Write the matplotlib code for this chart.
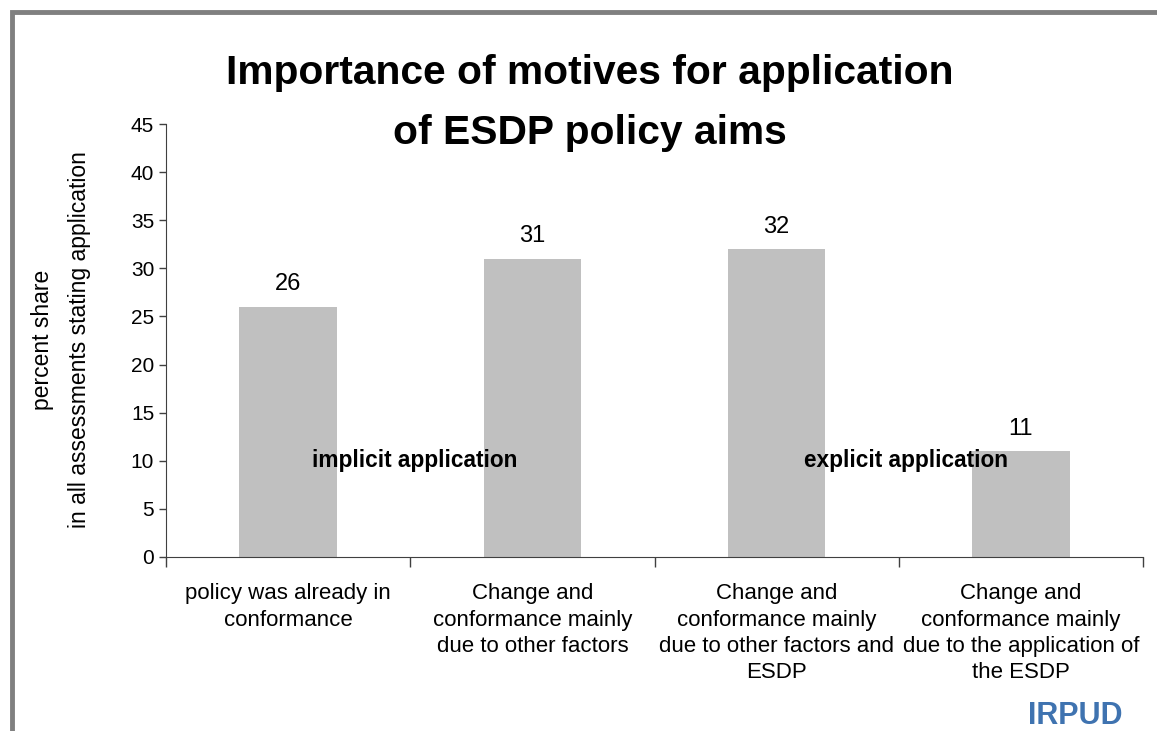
import numpy as np
import matplotlib.pyplot as plt
from matplotlib.patches import Rectangle

plt.rcParams['font.family'] = ['Liberation Sans', 'DejaVu Sans']

# data
categories = ["policy was already in\nconformance",
              "Change and\nconformance mainly\ndue to other factors",
              "Change and\nconformance mainly\ndue to other factors and\nESDP",
              "Change and\nconformance mainly\ndue to the application of\nthe ESDP"]
shares = [26, 31, 32, 11]
yticks = np.arange(0, 50, 5)

fig = plt.figure(figsize=(11.57, 7.31), dpi=100)

# grey frame on the left and top of the slide
fig.add_artist(Rectangle((12 / 1157, -0.05), 1.2, 1.05 - 12 / 731,
                         transform=fig.transFigure, fill=False,
                         edgecolor='#808080', linewidth=3.5))

ax = fig.add_axes([166 / 1157, 1 - 557 / 731, (1143 - 166) / 1157, (557 - 124) / 731])

x = np.arange(len(shares))
ax.bar(x, shares, width=0.4, color='#c0c0c0', zorder=2)

for xi, v in zip(x, shares):
    ax.text(xi, v + 1.2, str(v), ha='center', va='bottom', fontsize=17)

ax.set_xlim(-0.5, len(shares) - 0.5)
ax.set_ylim(0, 45)
ax.set_yticks(yticks)
ax.tick_params(axis='y', labelsize=15, length=5, color='#404040', width=1)

# boundaries as major ticks, category names as minor ticks
ax.set_xticks(np.arange(len(shares) + 1) - 0.5)
ax.set_xticklabels([])
ax.set_xticks(x, minor=True)
ax.set_xticklabels(categories, minor=True, fontsize=16, linespacing=1.32)
ax.tick_params(axis='x', which='major', length=7, color='#404040', width=1)
ax.tick_params(axis='x', which='minor', length=0, pad=19)

for s in ['top', 'right']:
    ax.spines[s].set_visible(False)
for s in ['left', 'bottom']:
    ax.spines[s].set_color('#404040')

fig.text(61 / 1157, 1 - 340 / 731, "percent share\nin all assessments stating application",
         ha='center', va='center', rotation=90, fontsize=16.5, linespacing=1.8)

ax.text(0.52, 10, "implicit application", ha='center', va='center',
        fontsize=16.3, fontweight='bold', zorder=3)
ax.text(2.53, 10, "explicit application", ha='center', va='center',
        fontsize=16.3, fontweight='bold', zorder=3)

fig.text(590 / 1157, 1 - 103 / 731, "Importance of motives for application\nof ESDP policy aims",
         ha='center', va='center', fontsize=29.3, fontweight='bold', linespacing=1.72)

fig.text(1075 / 1157, 1 - 716 / 731, "IRPUD", ha='center', va='center',
         fontsize=22, fontweight='heavy', color='#3f73b0')

fig.savefig('out.png', dpi=100)
